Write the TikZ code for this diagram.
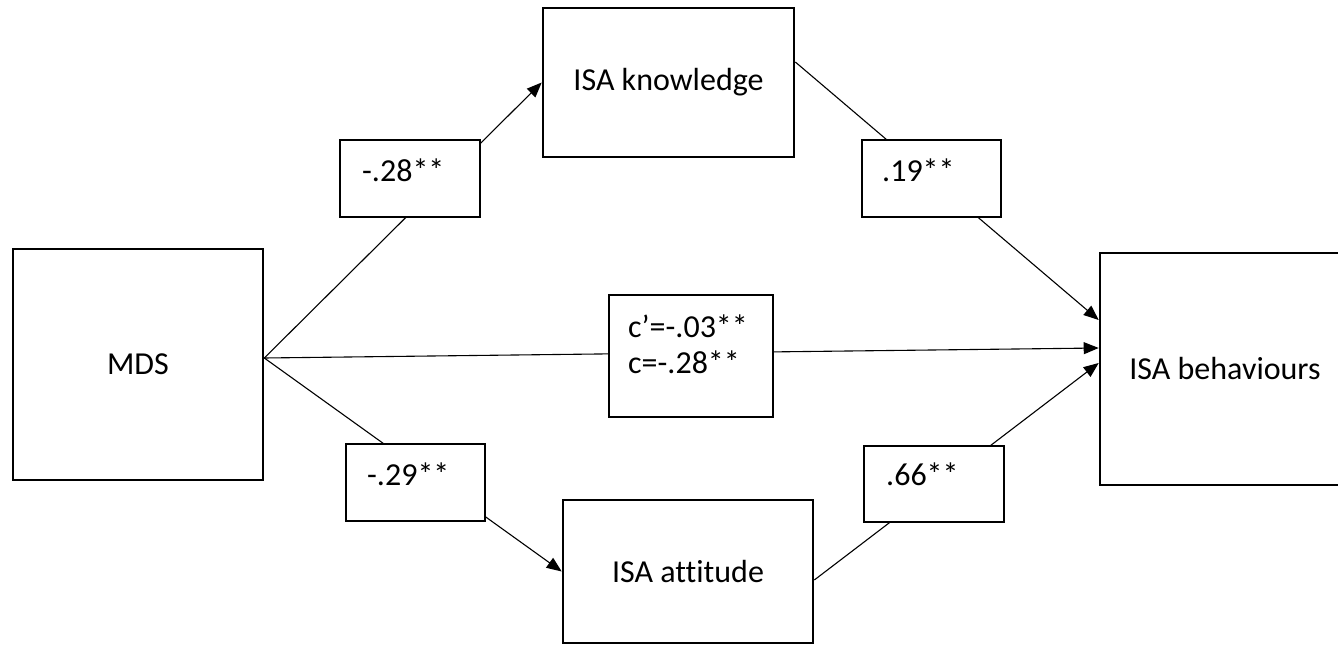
\documentclass[tikz,border=0pt]{standalone}
\usepackage{fontspec}
\setmainfont[Ligatures=NoCommon]{Carlito}
\usetikzlibrary{arrows.meta,calc}
\begin{document}
\begin{tikzpicture}[x=1bp,y=-1bp,
  font=\fontsize{32bp}{36bp}\selectfont,
  bigbox/.style={draw,line width=2.6bp,inner sep=0pt,rectangle},
  coef/.style={draw,line width=1.1bp,fill=white,inner sep=0pt,rectangle},
  coeftext/.style={anchor=base west,inner sep=0pt,align=left},
  conn/.style={line width=1.1bp},
  arr/.style={conn,-{Triangle[length=15bp,width=12bp]}}]
\clip (0,0) rectangle (1338,645);
\useasboundingbox (0,0) rectangle (1338,645);

% main variables
\node[bigbox,minimum width=250bp,minimum height=231bp] (MDS) at (138,364.5) {MDS};
\node[bigbox,minimum width=251bp,minimum height=149bp] (knowledge) at (668.5,82.5) {ISA knowledge};
\node[bigbox,minimum width=250bp,minimum height=143bp] (attitude) at (688,571.5) {ISA attitude};
\node[bigbox,minimum width=250bp,minimum height=232bp] (behav) at (1225,369) {ISA behaviours};

% connectors
\draw[arr] ([yshift=6.5bp]MDS.east) -- (knowledge.west);
\draw[arr] ([yshift=20.5bp]knowledge.east) -- ([yshift=49bp]behav.west);
\draw[arr] ([yshift=6.5bp]MDS.east) -- ([yshift=21bp]behav.west);
\draw[arr] ([yshift=6.5bp]MDS.east) -- (attitude.west);
\draw[arr] ([yshift=-8.5bp]attitude.east) -- ([yshift=6bp]behav.west);

% coefficient boxes
\node[coef,minimum width=140bp,minimum height=77bp] (c1) at (410,178.5) {};
\node[coef,minimum width=139bp,minimum height=77bp] (c2) at (931.5,178.5) {};
\node[coef,minimum width=164bp,minimum height=122bp] (c3) at (691,356) {};
\node[coef,minimum width=139bp,minimum height=77bp] (c4) at (415.5,482.5) {};
\node[coef,minimum width=140bp,minimum height=76bp] (c5) at (934,484) {};

\node[coeftext] (t1) at (362,182) {-.28**};
\node[coeftext] (t2) at (882,182) {.19**};
\node[coeftext] (t3) at (628,373) {c’=-.03**\\c=-.28**};
\node[coeftext] (t4) at (367,485) {-.29**};
\node[coeftext] (t5) at (886,485) {.66**};
\end{tikzpicture}
\end{document}
